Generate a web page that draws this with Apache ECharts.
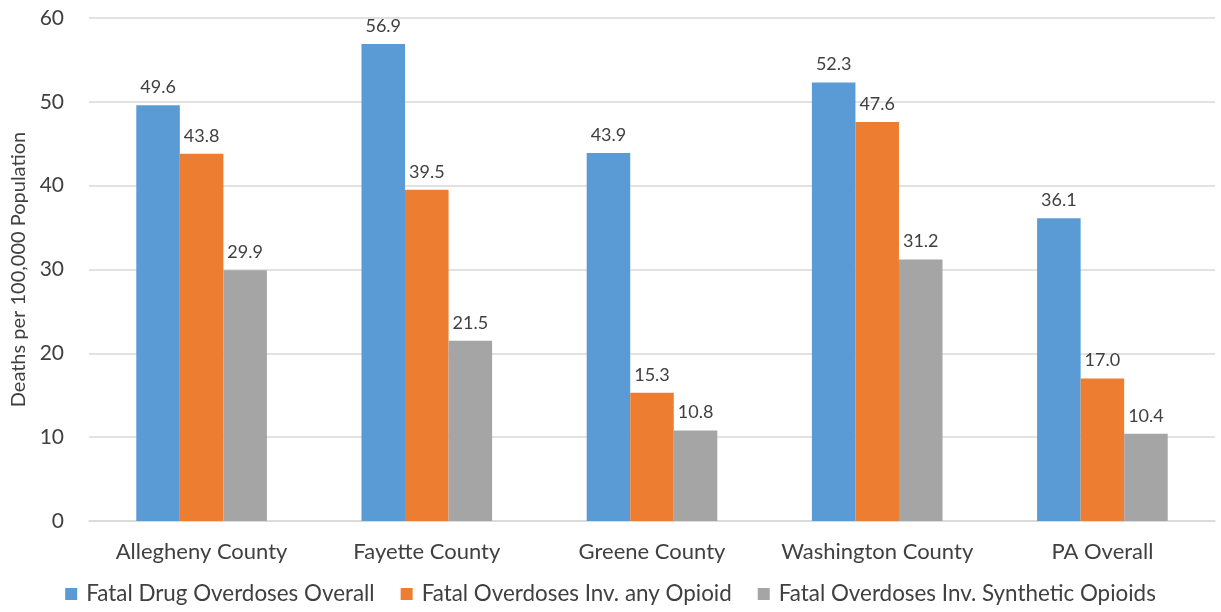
<!DOCTYPE html>
<html><head><meta charset="utf-8">
<script src="https://cdn.jsdelivr.net/npm/echarts@6/dist/echarts.min.js"></script>
<style>html,body{margin:0;padding:0;background:#fff}#c{width:1221px;height:612px}</style>
</head><body><div id="c"></div>
<script>
const categories = ['Allegheny County','Fayette County','Greene County','Washington County','PA Overall'];
const seriesNames = ['Fatal Drug Overdoses Overall','Fatal Overdoses Inv. any Opioid','Fatal Overdoses Inv. Synthetic Opioids'];
const overall = [49.6, 56.9, 43.9, 52.3, 36.1];
const anyOpioid = [43.8, 39.5, 15.3, 47.6, 17.0];
const synthetic = [29.9, 21.5, 10.8, 31.2, 10.4];
const colors = ['#5B9BD5','#ED7D31','#A5A5A5'];
const FONT = 'Lato';
const chart = echarts.init(document.getElementById('c'));
const mk = (name, data, color) => ({
  name, type: 'bar', data, barGap: '0%', barCategoryGap: '42%',
  itemStyle: {color},
  label: {show: true, position: 'top', distance: 9, fontFamily: FONT, fontSize: 18, color: '#404040',
    formatter: p => p.value.toFixed(1)}
});
chart.setOption({
  animation: false,
  textStyle: {fontFamily: FONT},
  grid: {left: 89, right: 6, top: 18, bottom: 91, containLabel: false},
  legend: {bottom: 2, left: 'center', itemWidth: 12, itemHeight: 12, itemGap: 26,
    icon: 'rect', textStyle: {fontFamily: FONT, fontSize: 22.4, color: '#404040', padding: [0,0,0,4]}, data: seriesNames},
  xAxis: {type: 'category', data: categories,
    axisLine: {lineStyle: {color: '#d9d9d9', width: 1.5}}, axisTick: {show: false},
    axisLabel: {interval: 0, fontFamily: FONT, fontSize: 22, color: '#404040', margin: 20}},
  yAxis: {type: 'value', min: 0, max: 60, interval: 10,
    name: 'Deaths per 100,000 Population', nameLocation: 'middle', nameGap: 54, nameRotate: 90,
    nameTextStyle: {fontFamily: FONT, fontSize: 20, color: '#404040'},
    axisLabel: {fontFamily: FONT, fontSize: 21, color: '#404040', margin: 25},
    splitLine: {lineStyle: {color: '#d9d9d9', width: 1.5}}},
  series: [mk(seriesNames[0], overall, colors[0]), mk(seriesNames[1], anyOpioid, colors[1]), mk(seriesNames[2], synthetic, colors[2])]
});
</script></body></html>
